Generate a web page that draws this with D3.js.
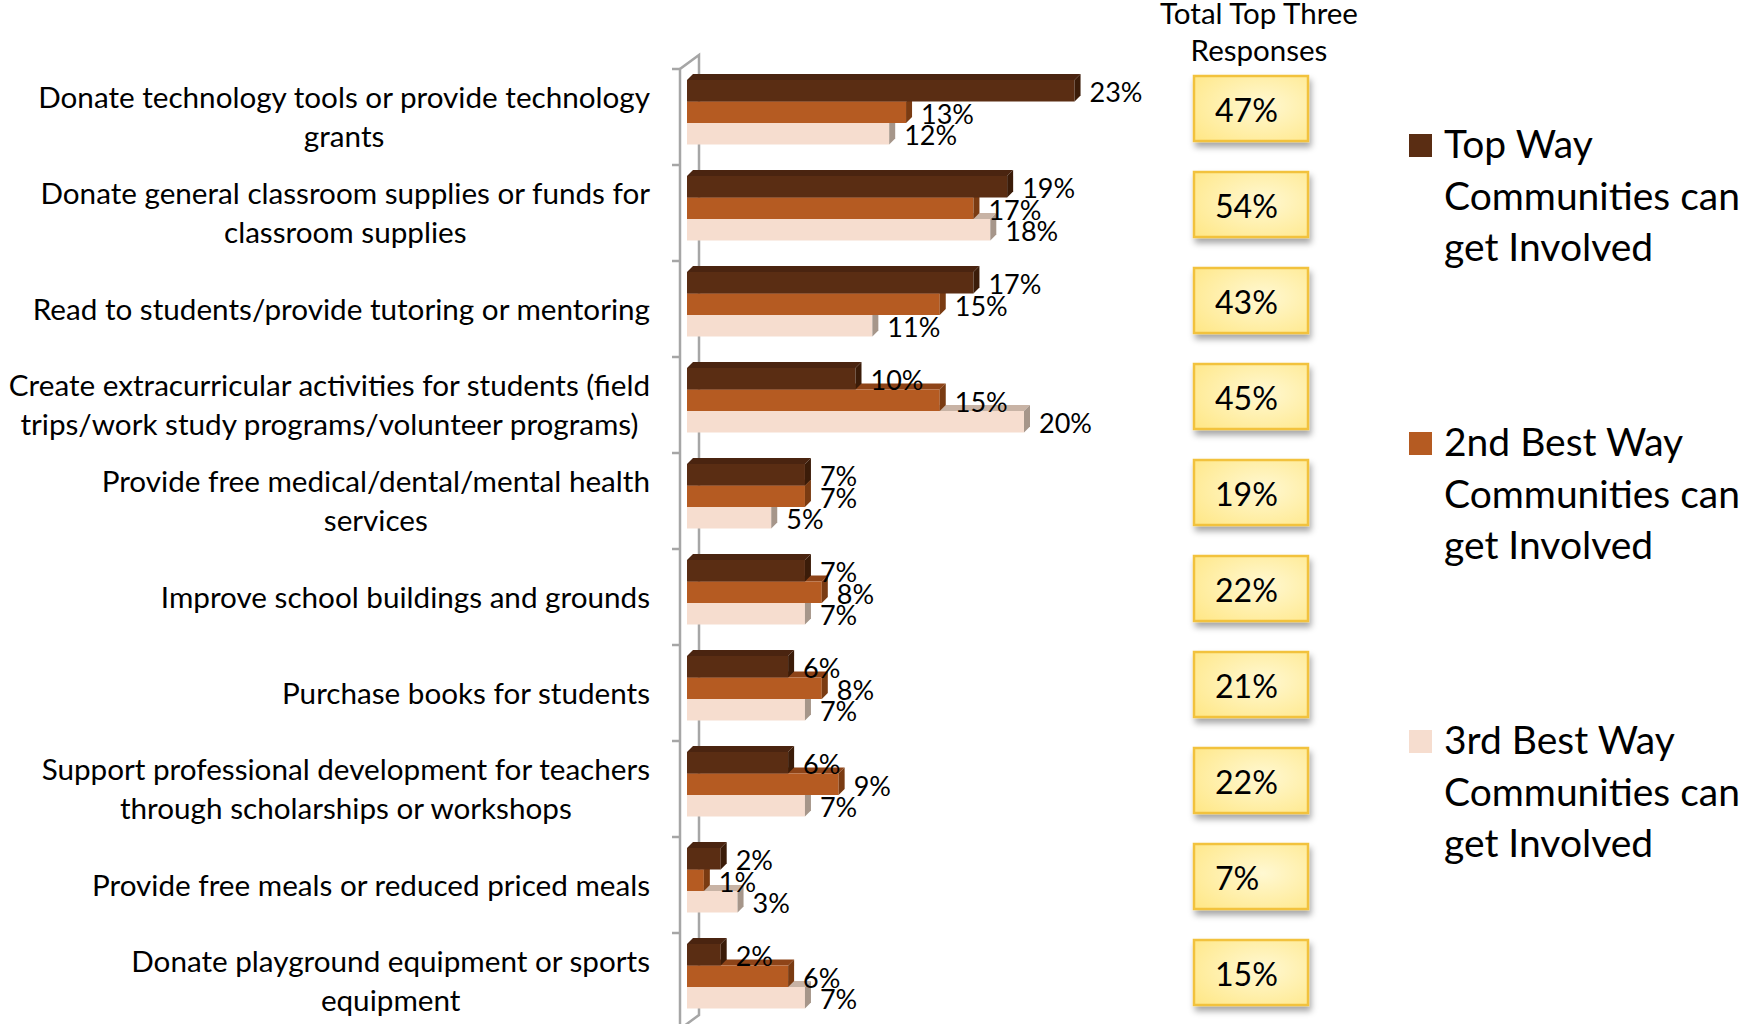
<!DOCTYPE html>
<html>
<head>
<meta charset="utf-8">
<script src="https://cdn.jsdelivr.net/npm/d3@7"></script>
<style>
  html, body { margin: 0; padding: 0; background: #ffffff; }
  svg { display: block; font-family: Lato, "Open Sans", sans-serif; }
</style>
</head>
<body>
<svg id="chart" width="1749" height="1024"></svg>
<script>
// ---------------- data ----------------
const categories = [
  "Donate technology tools or provide technology\ngrants",
  "Donate general classroom supplies or funds for\nclassroom supplies",
  "Read to students/provide tutoring or mentoring",
  "Create extracurricular activities for students (field\ntrips/work study programs/volunteer programs)",
  "Provide free medical/dental/mental health\nservices",
  "Improve school buildings and grounds",
  "Purchase books for students",
  "Support professional development for teachers\nthrough scholarships or workshops",
  "Provide free meals or reduced priced meals",
  "Donate playground equipment or sports\nequipment"
];
const topWay    = [23, 19, 17, 10, 7, 7, 6, 6, 2, 2];
const secondWay = [13, 17, 15, 15, 7, 8, 8, 9, 1, 6];
const thirdWay  = [12, 18, 11, 20, 5, 7, 7, 7, 3, 7];
const totalTopThree = [47, 54, 43, 45, 19, 22, 21, 22, 7, 15];
const seriesNames = [
  "Top Way\nCommunities can\nget Involved",
  "2nd Best Way\nCommunities can\nget Involved",
  "3rd Best Way\nCommunities can\nget Involved"
];
const totalHeader = ["Total Top Three", "Responses"];

// ---------------- styling ----------------
const seriesColors = [
  { front: "#5A2D13", top: "#4A2410", side: "#3B1C09" },
  { front: "#B55B22", top: "#8E4418", side: "#7A3B12" },
  { front: "#F6DDCF", top: "#C8B3A5", side: "#A6968A" }
];
const FONT = "Lato, 'Open Sans', sans-serif";

const svg = d3.select("#chart");

// measure helper: font size so that a string has a given width
function fitSize(str, target) {
  const t = svg.append("text").attr("font-family", FONT).attr("font-size", 100).text(str);
  const w = t.node().getComputedTextLength();
  t.remove();
  return 100 * target / w;
}
function textWidth(str, size) {
  const t = svg.append("text").attr("font-family", FONT).attr("font-size", size).text(str);
  const w = t.node().getComputedTextLength();
  t.remove();
  return w;
}
const fsCat = fitSize("Donate technology tools or provide technology", 612);
const fsVal = fitSize("23%", 53);
const fsBox = fitSize("47%", 63);
const fsHead = fitSize("Total Top Three", 198);
const fsLeg = fitSize("Communities can", 296);

// ---------------- scales ----------------
const y = d3.scaleBand().domain(d3.range(categories.length)).range([69, 69 + 96 * categories.length]);
const sub = d3.scaleBand().domain([0, 1, 2]).range([11, 75.5]);
const x = d3.scaleLinear().domain([0, 25]).range([687, 687 + 25 * 16.85]);
const DX = 6, DY = 6;

const series = [topWay, secondWay, thirdWay];
const fmt = d => d + "%";

// ---------------- defs ----------------
const defs = svg.append("defs");
const grad = defs.append("radialGradient").attr("id", "boxGrad")
  .attr("cx", "60%").attr("cy", "45%").attr("r", "75%");
grad.append("stop").attr("offset", "0%").attr("stop-color", "#FFF8D2");
grad.append("stop").attr("offset", "100%").attr("stop-color", "#FFE88A");
const filt = defs.append("filter").attr("id", "shadow").attr("x", "-20%").attr("y", "-20%").attr("width", "150%").attr("height", "160%");
filt.append("feDropShadow").attr("dx", 2).attr("dy", 5).attr("stdDeviation", 3)
  .attr("flood-color", "#000").attr("flood-opacity", 0.35);

// ---------------- axis wall ----------------
const axisG = svg.append("g").attr("stroke", "#A6A6A6").attr("stroke-width", 2.5).attr("fill", "none");
const yTop = y.range()[0], yBot = y.range()[1];
const xFront = 680, xBack = 699, wallDy = 14;
axisG.append("path").attr("d",
  `M${xFront},${yBot} L${xFront},${yTop} L${xBack},${yTop - wallDy} L${xBack},${yBot - wallDy} L${xFront},${yBot}`);
const tickYs = y.domain().map(d => y(d)).concat([yBot]);
axisG.selectAll("line.tick").data(tickYs).join("line")
  .attr("x1", xFront - 8).attr("x2", xFront).attr("y1", d => d).attr("y2", d => d);

// ---------------- bars ----------------
const barsG = svg.append("g");
categories.forEach((c, i) => {
  const g = barsG.append("g");
  [2, 1, 0].forEach(s => {
    const v = series[s][i];
    const col = seriesColors[s];
    const x0 = x(0), x1 = x(v);
    const yy = y(i) + sub(s), h = sub.bandwidth();
    g.append("polygon")
      .attr("points", [[x0, yy], [x0 + DX, yy - DY], [x1 + DX, yy - DY], [x1, yy]].join(" "))
      .attr("fill", col.top);
    g.append("rect").attr("x", x0).attr("y", yy).attr("width", x1 - x0).attr("height", h).attr("fill", col.front);
    g.append("polygon")
      .attr("points", [[x1, yy], [x1 + DX, yy - DY], [x1 + DX, yy + h - DY], [x1, yy + h]].join(" "))
      .attr("fill", col.side);
  });
});

// data labels
const labG = svg.append("g").attr("font-family", FONT).attr("font-size", fsVal).attr("fill", "#000");
categories.forEach((c, i) => {
  [0, 1, 2].forEach(s => {
    const v = series[s][i];
    const yc = y(i) + sub(s) + sub.bandwidth() / 2 + 2;
    labG.append("text").attr("x", x(v) + 15).attr("y", yc + 0.36 * fsVal).text(fmt(v));
  });
});

// ---------------- category labels ----------------
const catG = svg.append("g").attr("font-family", FONT).attr("font-size", fsCat).attr("fill", "#000");
const lineH = 39, labelRight = 650;
categories.forEach((c, i) => {
  const lines = c.split("\n");
  const maxW = d3.max(lines, l => textWidth(l, fsCat));
  const cx = labelRight - maxW / 2;
  const yc = y(i) + y.bandwidth() / 2;
  const t = catG.append("text").attr("text-anchor", "middle");
  lines.forEach((l, j) => {
    t.append("tspan").attr("x", cx)
      .attr("y", yc + (j - (lines.length - 1) / 2) * lineH + 0.36 * fsCat)
      .text(l);
  });
});

// ---------------- total boxes ----------------
const boxG = svg.append("g");
const boxX = 1194, boxW = 114, boxH = 65;
totalTopThree.forEach((v, i) => {
  const by = y(i) + 7;
  boxG.append("rect").attr("x", boxX).attr("y", by).attr("width", boxW).attr("height", boxH)
    .attr("fill", "url(#boxGrad)").attr("stroke", "#F2C23C").attr("stroke-width", 2.5)
    .attr("filter", "url(#shadow)");
  boxG.append("text").attr("x", boxX + 21).attr("y", by + 46)
    .attr("font-family", FONT).attr("font-size", fsBox).attr("fill", "#000").text(fmt(v));
});
const headG = svg.append("g").attr("font-family", FONT).attr("font-size", fsHead).attr("fill", "#000").attr("text-anchor", "middle");
totalHeader.forEach((h, j) => {
  headG.append("text").attr("x", 1259).attr("y", 24 + j * 37).text(h);
});

// ---------------- legend ----------------
const legG = svg.append("g").attr("font-family", FONT).attr("font-size", fsLeg).attr("fill", "#000");
const legBase = [158, 456, 754];
seriesNames.forEach((n, k) => {
  const b = legBase[k];
  legG.append("rect").attr("x", 1409).attr("y", b - 24).attr("width", 23).attr("height", 23)
    .attr("fill", seriesColors[k].front);
  const t = legG.append("text");
  n.split("\n").forEach((l, j) => {
    t.append("tspan").attr("x", 1444).attr("y", b + j * 51.5).text(l);
  });
});
</script>
</body>
</html>
